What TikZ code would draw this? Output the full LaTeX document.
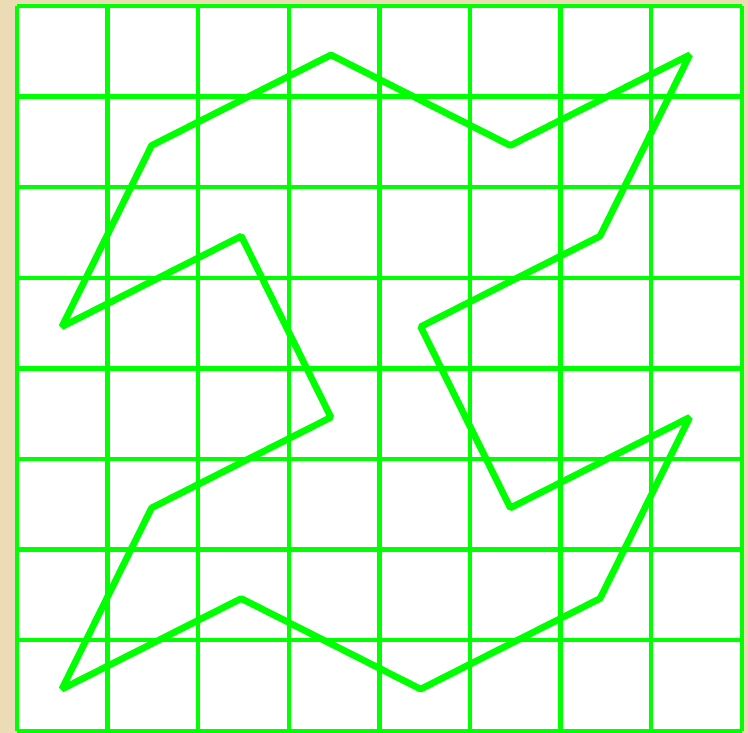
\documentclass[tikz,border=0pt]{standalone}
\usepackage{tikz}

\definecolor{parchment}{RGB}{236,220,182}
\definecolor{brightgreen}{RGB}{0,255,0}

\begin{document}
\begin{tikzpicture}[
    x=1cm, y=-1cm,
    cellgrid/.style={draw=brightgreen, line width=1.35pt},
    loopline/.style={draw=brightgreen, line width=2.1pt, line join=bevel}
]
% paper behind the board
\fill[parchment] (-0.188,-0.066) rectangle (8.068,8.02);
\useasboundingbox (-0.188,-0.066) rectangle (8.068,8.02);

% 8x8 board
\fill[white] (0,0) rectangle (8,8);
\draw[cellgrid] (0,0) grid (8,8);

% closed loop through the cell centres
\begin{scope}[xscale=0.99, yshift=-0.04cm]
\draw[loopline] (1.5,1.5) -- (3.5,0.5) -- (5.5,1.5) -- (7.5,0.5)
    -- (6.5,2.5) -- (4.5,3.5) -- (5.5,5.5) -- (7.5,4.5)
    -- (6.5,6.5) -- (4.5,7.5) -- (2.5,6.5) -- (0.5,7.5)
    -- (1.5,5.5) -- (3.5,4.5) -- (2.5,2.5) -- (0.5,3.5) -- cycle;
\end{scope}
\end{tikzpicture}
\end{document}
